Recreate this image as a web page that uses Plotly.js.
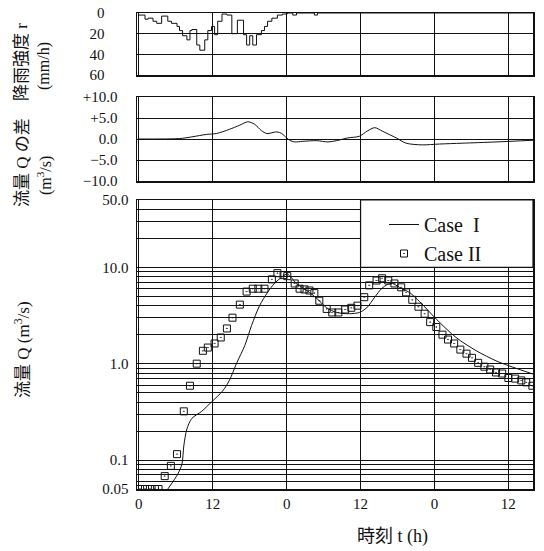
<!DOCTYPE html>
<html>
<head>
<meta charset="utf-8">
<script src="https://cdn.plot.ly/plotly-3.0.1.min.js"></script>
<style>
html,body{margin:0;padding:0;background:#fff;}
#chart{width:544px;height:551px;}
</style>
</head>
<body>
<div id="chart"></div>
<script>
// ---- Data ----
const rainTime = [0, 1.0, 1.5, 2.3, 2.9, 3.7, 4.7, 5.3, 6.2, 6.6, 7.1, 7.8, 8.3, 8.6, 9.4, 9.9, 10.7, 11.2, 11.8, 12.3, 12.8, 13.5, 14.3, 15.1, 16.0, 17.0, 17.5, 18.0, 18.5, 19.1, 19.9, 20.4, 20.9, 21.6, 22.5, 23.3, 24.1, 25.0, 25.6, 28.5, 29.0, 64];
const rainRate = [2, 6, 5, 8, 10, 3, 8, 10, 13, 17, 22, 26, 17, 16, 31, 36, 26, 17, 13, 21, 8, 1, 2, 20, 7, 21, 31, 22, 31, 21, 17, 13, 8, 5, 2, 1, 0, 2, 0, 2, 0, 0];

const diffTime = [0, 6.6, 8.6, 11.0, 12.6, 14.7, 16.4, 17.7, 18.8, 19.9, 20.8, 22.4, 23.2, 24.0, 24.5, 25.3, 26.6, 28.9, 30.7, 32.1, 33.9, 35.8, 37.1, 38.3, 39.5, 41.8, 43.4, 46.0, 48.8, 52.5, 58.0, 64.0];
const diffQ = [0, 0.1, 0.5, 1.1, 1.3, 2.3, 3.3, 4.1, 3.5, 2.0, 1.3, 1.7, 1.3, 0.25, -0.3, -0.7, -0.55, -0.4, -0.7, -0.4, 0.25, 0.65, 1.9, 2.7, 1.9, 0.25, -1.0, -1.4, -1.2, -1.0, -0.7, -0.3];

const case1Time = [4.7, 6.3, 7.0, 7.3, 7.8, 8.6, 10.2, 11.8, 13.6, 14.7, 15.9, 17.2, 18.3, 19.6, 20.9, 22.0, 23.2, 24.1, 25.6, 27.7, 29.3, 30.5, 32.1, 34.2, 35.8, 37.0, 38.3, 39.4, 40.4, 41.2, 42.3, 43.9, 45.6, 48.3, 51.5, 54.8, 58.0, 60.1, 64.0];
const case1Q = [0.05, 0.071, 0.091, 0.14, 0.21, 0.27, 0.32, 0.40, 0.52, 0.67, 1.02, 1.54, 2.49, 4.0, 5.5, 6.8, 7.9, 8.5, 6.8, 5.5, 4.5, 3.8, 3.4, 3.3, 3.4, 3.8, 4.9, 6.0, 6.65, 6.8, 6.2, 5.5, 4.4, 2.9, 1.87, 1.36, 1.07, 0.95, 0.78];

const case2Time = [0.2, 1.0, 1.8, 2.6, 3.2, 4.2, 5.2, 6.2, 7.3, 8.3, 9.4, 10.4, 11.2, 12.3, 13.3, 14.3, 15.2, 16.4, 17.5, 18.5, 19.4, 20.4, 21.6, 22.5, 23.5, 24.1, 25.3, 26.1, 26.9, 27.7, 28.5, 29.3, 30.5, 31.4, 32.4, 33.5, 34.5, 35.5, 36.6, 37.4, 38.6, 39.5, 40.5, 41.5, 42.6, 43.4, 44.4, 45.4, 46.4, 47.3, 48.3, 49.3, 50.2, 51.2, 52.2, 53.2, 54.1, 55.1, 56.1, 57.05, 58.0, 59.0, 60.0, 61.1, 62.1, 62.9, 63.9];
const case2Q = [0.05, 0.05, 0.05, 0.05, 0.05, 0.068, 0.087, 0.115, 0.32, 0.59, 1.0, 1.36, 1.47, 1.62, 1.87, 2.32, 3.0, 4.1, 5.6, 6.0, 6.0, 6.0, 7.5, 8.7, 8.3, 8.1, 6.8, 6.0, 5.9, 5.75, 5.4, 4.5, 3.7, 3.4, 3.4, 3.65, 3.8, 4.0, 4.9, 6.5, 7.3, 7.7, 7.3, 6.8, 6.2, 5.5, 4.6, 3.9, 3.3, 2.7, 2.4, 2.0, 1.78, 1.62, 1.40, 1.27, 1.15, 1.02, 0.93, 0.87, 0.81, 0.79, 0.71, 0.70, 0.67, 0.64, 0.59];

// tick labels
const xTickVals = [0, 12, 24, 36, 48, 60];
const xTickText = ['0', '12', '0', '12', '0', '12'];
const rainTickVals = [0, 20, 40, 60];
const rainTickText = ['0', '20', '40', '60'];
const diffTickVals = [10, 5, 0, -5, -10];
const diffTickText = ['+10.0', '+5.0', '0.0', '\u22125.0', '\u221210.0'];
const flowGridVals = [0.05, 0.06, 0.07, 0.08, 0.09, 0.1, 0.2, 0.3, 0.4, 0.5, 0.6, 0.7, 0.8, 0.9, 1, 2, 3, 4, 5, 6, 7, 8, 9, 10, 20, 30, 40, 50];
const flowLabels = {0.05: '0.05', 0.1: '0.1', 1: '1.0', 10: '10.0', 50: '50.0'};

// ---- Layout helpers (pixel geometry) ----
const W = 544, H = 551;
const L = 137, R = 533, T = 13, B = 489;
const px = p => (p - L) / (R - L);
const py = p => (B - p) / (B - T);

const serif = "'Liberation Serif', 'Noto Sans CJK JP', serif";
const ink = '#111';
const tickFont = {family: serif, size: 15, color: ink};

const baseX = {
  range: [-0.3, 64], tickvals: xTickVals, ticktext: xTickText,
  showgrid: true, gridcolor: ink, gridwidth: 1, zeroline: false,
  showline: true, mirror: true, linecolor: ink, linewidth: 1.5, ticks: '',
  tickfont: tickFont, fixedrange: true
};

const traces = [
  {x: rainTime, y: rainRate, xaxis: 'x3', yaxis: 'y3', type: 'scatter', mode: 'lines',
   line: {color: ink, width: 1, shape: 'hv'}, showlegend: false, hoverinfo: 'skip'},
  {x: diffTime, y: diffQ, xaxis: 'x2', yaxis: 'y2', type: 'scatter', mode: 'lines',
   line: {color: ink, width: 1, shape: 'spline', smoothing: 0.8}, showlegend: false},
  {x: case1Time, y: case1Q, xaxis: 'x', yaxis: 'y', type: 'scatter', mode: 'lines', name: 'Case\u00a0\u00a0I',
   line: {color: ink, width: 1, shape: 'spline', smoothing: 0.8}},
  {x: case2Time, y: case2Q, xaxis: 'x', yaxis: 'y', type: 'scatter', mode: 'markers', name: 'Case\u00a0II',
   marker: {symbol: 'square-open-dot', size: 7, color: ink, line: {width: 1, color: ink}}}
];

function vlabel(text, xpx, ypx, size) {
  return {text: text, xref: 'paper', yref: 'paper', x: px(xpx), y: py(ypx),
          xanchor: 'center', yanchor: 'middle', textangle: -90, showarrow: false,
          font: {family: serif, size: size, color: ink}};
}

const layout = {
  width: W, height: H,
  margin: {l: L, r: W - R, t: T, b: H - B, pad: 0},
  paper_bgcolor: '#fff', plot_bgcolor: '#fff',
  font: {family: serif, color: ink, size: 14},
  showlegend: true,
  legend: {x: px(384), y: py(205), xanchor: 'left', yanchor: 'top',
           bgcolor: 'rgba(0,0,0,0)', borderwidth: 0,
           font: {family: serif, size: 20, color: ink}, tracegroupgap: 2},
  xaxis: Object.assign({}, baseX, {anchor: 'y', domain: [0, 1]}),
  xaxis2: Object.assign({}, baseX, {anchor: 'y2', domain: [0, 1], matches: 'x', showticklabels: false}),
  xaxis3: Object.assign({}, baseX, {anchor: 'y3', domain: [0, 1], matches: 'x', showticklabels: false}),
  yaxis: {
    domain: [0, py(200)], type: 'log', range: [Math.log10(0.05), Math.log10(50)],
    tickvals: flowGridVals, ticktext: flowGridVals.map(v => flowLabels[v] || ''),
    showgrid: true, gridcolor: ink, gridwidth: 1, zeroline: false,
    showline: true, mirror: true, linecolor: ink, linewidth: 1.5, ticks: '',
    ticklabelstandoff: 4, tickfont: tickFont, fixedrange: true
  },
  yaxis2: {
    domain: [py(181), py(97)], range: [-10, 10],
    tickvals: diffTickVals, ticktext: diffTickText,
    showgrid: true, gridcolor: ink, gridwidth: 1, zeroline: false,
    showline: true, mirror: true, linecolor: ink, linewidth: 1.5, ticks: '',
    ticklabelstandoff: 15, tickfont: tickFont, fixedrange: true
  },
  yaxis3: {
    domain: [py(75), 1], range: [60, 0],
    tickvals: rainTickVals, ticktext: rainTickText,
    showgrid: true, gridcolor: ink, gridwidth: 1, zeroline: false,
    showline: true, mirror: true, linecolor: ink, linewidth: 1.5, ticks: '',
    ticklabelstandoff: 28, tickfont: tickFont, fixedrange: true
  },
  shapes: [
    {type: 'rect', layer: 'above', xref: 'x', yref: 'y domain',
     x0: 36, x1: 64, y0: Math.log10(10 / 0.05) / Math.log10(1000), y1: 1,
     fillcolor: '#fff', line: {color: ink, width: 1.2}}
  ],
  annotations: [
    vlabel('降雨強度 r', 22, 62, 17),
    vlabel('(mm/h)', 44, 66, 16),
    vlabel('流量 Q の差', 22, 163, 17),
    vlabel('(m<sup>3</sup>/s)', 44, 176, 16),
    vlabel('流量 Q (m<sup>3</sup>/s)', 22, 350, 17),
    {text: '時刻 t (h)', xref: 'paper', yref: 'paper', x: px(392), y: py(536),
     xanchor: 'center', yanchor: 'middle', showarrow: false,
     font: {family: serif, size: 18, color: ink}}
  ]
};

Plotly.newPlot('chart', traces, layout, {displayModeBar: false, staticPlot: true});
</script>
</body>
</html>
